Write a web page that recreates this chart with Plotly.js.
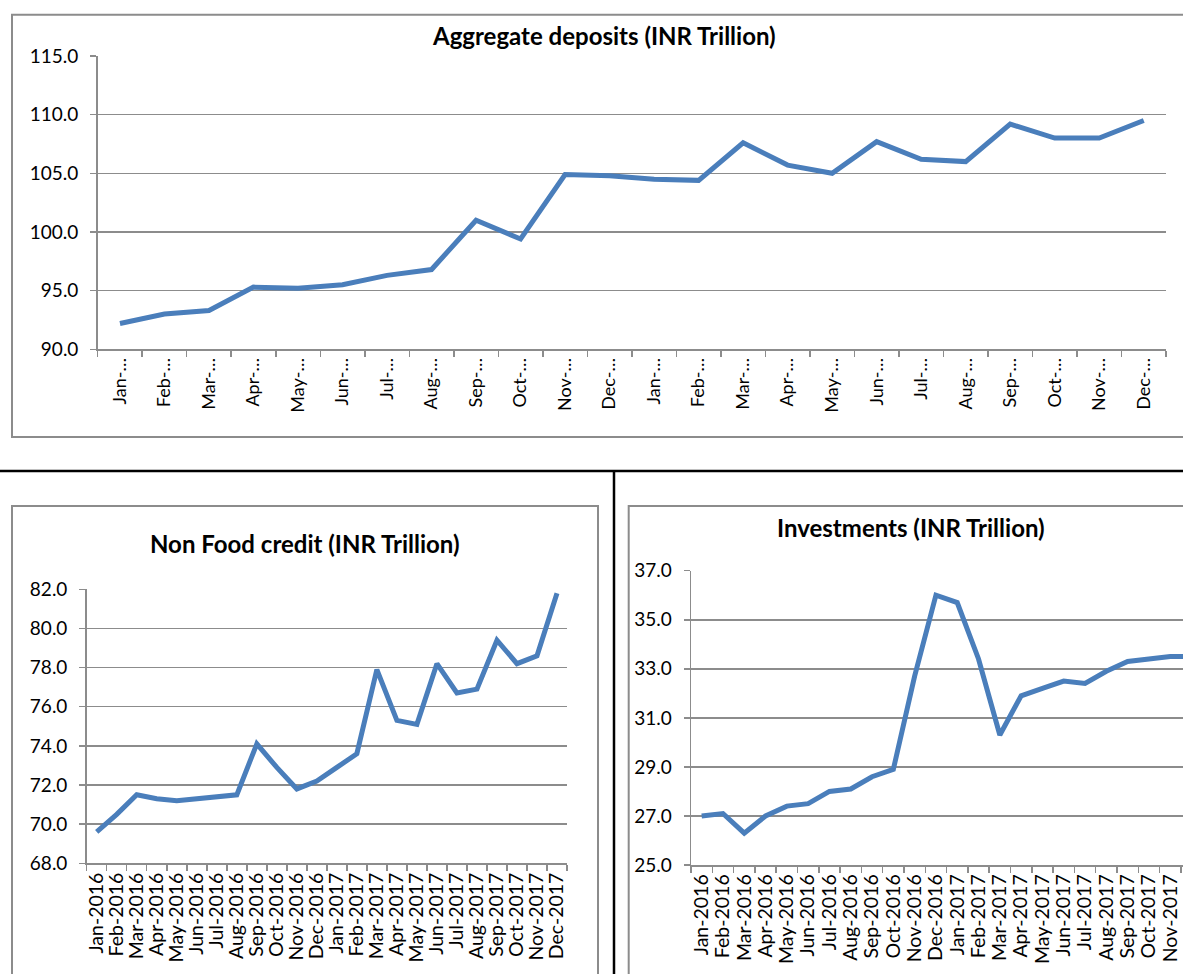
<!DOCTYPE html>
<html>
<head>
<meta charset="utf-8">
<script src="https://cdn.plot.ly/plotly-3.0.1.min.js"></script>
<style>
  html, body { margin: 0; padding: 0; background: #ffffff; }
  #chart { width: 1183px; height: 974px; }
</style>
</head>
<body>
<div id="chart"></div>
<script>
// ---------- data ----------
const months = ["Jan-2016","Feb-2016","Mar-2016","Apr-2016","May-2016","Jun-2016","Jul-2016","Aug-2016","Sep-2016","Oct-2016","Nov-2016","Dec-2016",
                "Jan-2017","Feb-2017","Mar-2017","Apr-2017","May-2017","Jun-2017","Jul-2017","Aug-2017","Sep-2017","Oct-2017","Nov-2017","Dec-2017"];
const shortLabels = ["Jan-…","Feb-…","Mar-…","Apr-…","May-…","Jun-…","Jul-…","Aug-…","Sep-…","Oct-…","Nov-…","Dec-…",
                     "Jan-…","Feb-…","Mar-…","Apr-…","May-…","Jun-…","Jul-…","Aug-…","Sep-…","Oct-…","Nov-…","Dec-…"];
const aggregateDeposits = [92.2, 93.0, 93.3, 95.3, 95.2, 95.5, 96.3, 96.8, 101.0, 99.4, 104.9, 104.8,
                           104.5, 104.4, 107.6, 105.7, 105.0, 107.7, 106.2, 106.0, 109.2, 108.0, 108.0, 109.5];
const nonFoodCredit = [69.6, 70.5, 71.5, 71.3, 71.2, 71.3, 71.4, 71.5, 74.1, 72.9, 71.8, 72.2,
                       72.9, 73.6, 77.9, 75.3, 75.1, 78.2, 76.7, 76.9, 79.4, 78.2, 78.6, 81.8];
const investments = [27.0, 27.1, 26.3, 27.0, 27.4, 27.5, 28.0, 28.1, 28.6, 28.9, 32.7, 36.0,
                     35.7, 33.4, 30.3, 31.9, 32.2, 32.5, 32.4, 32.9, 33.3, 33.4, 33.5, 33.5];
const titles = ["Aggregate deposits (INR Trillion)", "Non Food credit (INR Trillion)", "Investments (INR Trillion)"];

// ---------- helpers ----------
const W = 1183, H = 974;
const px = v => v / W;
const py = v => 1 - v / H;

const BLUE = "#4a7ebb";
const GRID = "#8c8c8c";
const BORDER = "#8c8c8c";
const FONT = "Lato, 'Open Sans', 'DejaVu Sans', sans-serif";

function lineTrace(y, xa, ya) {
  return {
    type: "scatter", mode: "lines", x: months, y: y,
    xaxis: xa, yaxis: ya,
    line: { color: BLUE, width: 5 },
    hoverinfo: "x+y"
  };
}

function xAxis(domain, anchor, labels, range, size) {
  return {
    domain: domain, anchor: anchor, type: "category",
    range: range,
    tickmode: "array", tickvals: months, ticktext: labels,
    tickson: "boundaries", ticks: "outside", ticklen: 6, tickwidth: 1.5, tickcolor: GRID,
    tickangle: -90,
    tickfont: { family: FONT, size: size, color: "#000" },
    showgrid: false, zeroline: false,
    showline: true, linecolor: GRID, linewidth: 1.5,
    fixedrange: true
  };
}

function yAxis(domain, anchor, range, dtick) {
  return {
    domain: domain, anchor: anchor, range: range,
    tickmode: "linear", tick0: range[0], dtick: dtick, tickformat: ".1f",
    ticks: "outside", ticklen: 6, tickwidth: 1.5, tickcolor: GRID,
    ticklabelstandoff: 8,
    tickfont: { family: FONT, size: 19, color: "#000" },
    showgrid: true, gridcolor: GRID, gridwidth: 1.5,
    zeroline: false, showline: true, linecolor: GRID, linewidth: 1.5,
    fixedrange: true
  };
}

const data = [
  lineTrace(aggregateDeposits, "x", "y"),
  lineTrace(nonFoodCredit, "x2", "y2"),
  lineTrace(investments, "x3", "y3")
];

function rectShape(x0, y0, x1, y1, color, width) {
  return { type: "rect", xref: "paper", yref: "paper",
           x0: px(x0), x1: px(x1), y0: py(y1), y1: py(y0),
           line: { color: color, width: width }, fillcolor: "rgba(0,0,0,0)", layer: "below" };
}
function lineShape(x0, y0, x1, y1, color, width) {
  return { type: "line", xref: "paper", yref: "paper",
           x0: px(x0), x1: px(x1), y0: py(y0), y1: py(y1),
           line: { color: color, width: width } };
}

const TITLE_SIZE = 24;

const layout = {
  width: W, height: H,
  margin: { l: 0, r: 0, t: 0, b: 0, pad: 0 },
  paper_bgcolor: "#ffffff", plot_bgcolor: "rgba(0,0,0,0)",
  showlegend: false,
  font: { family: FONT, color: "#000" },
  xaxis:  xAxis([px(97.7), px(1166)], "y",  shortLabels, [-0.5, 23.5], 18),
  yaxis:  yAxis([py(349.3), py(56)], "x", [90, 115], 5),
  xaxis2: xAxis([px(86.7), px(567)], "y2", months, [-0.5, 23.5], 19.5),
  yaxis2: yAxis([py(863.3), py(589.3)], "x2", [68, 82], 2),
  xaxis3: xAxis([px(691), 1], "y3", months, [-0.5, 22.6], 19.5),
  yaxis3: yAxis([py(865), py(570.7)], "x3", [25, 37], 2),
  shapes: [
    rectShape(12, 14.7, 1200, 437, BORDER, 2),
    rectShape(12, 506, 598, 1000, BORDER, 2),
    rectShape(628.7, 506, 1200, 1000, BORDER, 2),
    lineShape(0, 471, 1183, 471, "#000", 2.5),
    lineShape(614, 471, 614, 974, "#000", 2.5)
  ],
  annotations: [
    { text: "<b>" + titles[0] + "</b>", xref: "paper", yref: "paper", x: px(603.5), y: py(36),
      xanchor: "center", yanchor: "middle", showarrow: false, font: { family: FONT, size: TITLE_SIZE, color: "#000" } },
    { text: "<b>" + titles[1] + "</b>", xref: "paper", yref: "paper", x: px(305), y: py(543),
      xanchor: "center", yanchor: "middle", showarrow: false, font: { family: FONT, size: TITLE_SIZE, color: "#000" } },
    { text: "<b>" + titles[2] + "</b>", xref: "paper", yref: "paper", x: px(911), y: py(527),
      xanchor: "center", yanchor: "middle", showarrow: false, font: { family: FONT, size: TITLE_SIZE, color: "#000" } }
  ]
};

Plotly.newPlot("chart", data, layout, { displayModeBar: false, staticPlot: true });
</script>
</body>
</html>
